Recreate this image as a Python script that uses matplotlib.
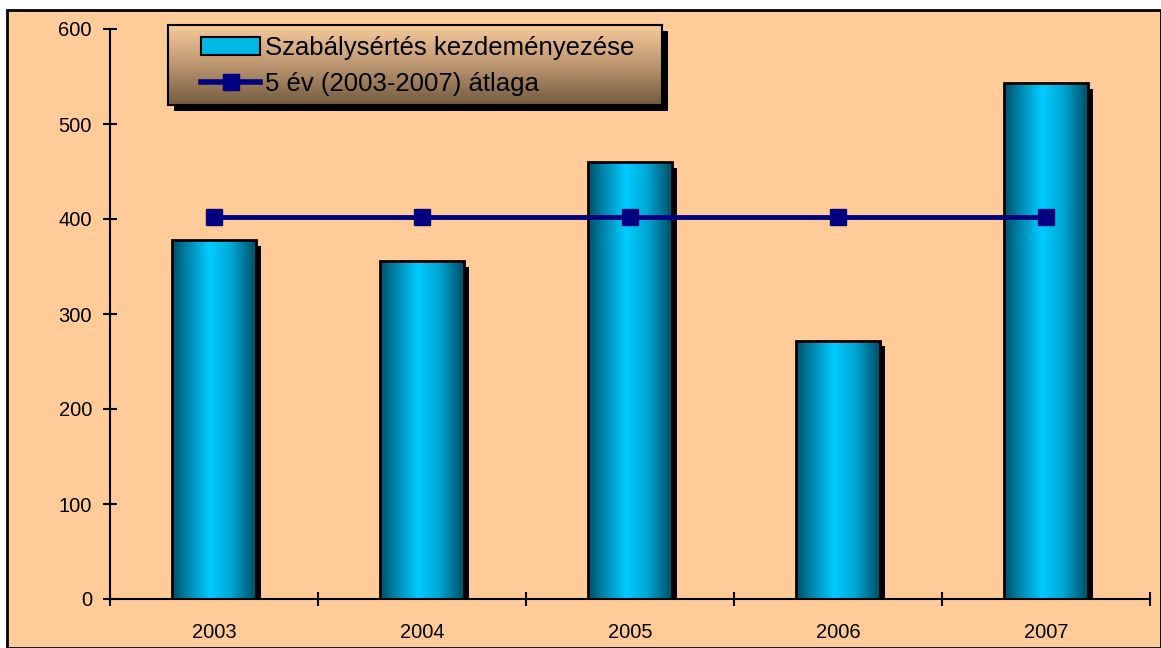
import numpy as np
import matplotlib
matplotlib.use("Agg")
import matplotlib.pyplot as plt
from matplotlib.colors import LinearSegmentedColormap
from matplotlib.patches import Rectangle, Patch
from matplotlib.lines import Line2D

plt.rcParams['font.family'] = ['Liberation Sans', 'DejaVu Sans']

years = ["2003", "2004", "2005", "2006", "2007"]
cases = [378, 356, 460, 272, 543]
average = [402, 402, 402, 402, 402]
bar_label = "Szabálysértés kezdeményezése"
line_label = "5 év (2003-2007) átlaga"

BG = "#FFCC99"
NAVY = "#000080"
W, H = 1161, 648

fig = plt.figure(figsize=(W / 100, H / 100), dpi=100)
fig.patch.set_facecolor("white")

# outer frame of the chart area
fig.patches.append(Rectangle((7 / W, 0.0), 1 - 7 / W, 1 - 10 / H, transform=fig.transFigure,
                             facecolor=BG, edgecolor="black", linewidth=2, zorder=-10))

ax = fig.add_axes([110 / W, 1 - 599 / H, (1150 - 110) / W, (599 - 29) / H])
ax.set_facecolor("none")

bar_cmap = LinearSegmentedColormap.from_list(
    "cyl", [(0.0, "#004F68"), (0.2, "#0089B0"), (0.45, "#00CCFF"), (0.7, "#00A8D6"), (1.0, "#004F68")])
grad = np.linspace(0, 1, 256).reshape(1, -1)

x = np.arange(len(years))
width = 0.4
dx = 5 / 208
# shadows
ax.bar(x + dx, np.array(cases) - 6, width=width, color="black", zorder=1)
bars = ax.bar(x, cases, width=width, facecolor="none", edgecolor="black", linewidth=2, zorder=3)
for b in bars:
    x0, w, h = b.get_x(), b.get_width(), b.get_height()
    im = ax.imshow(grad, cmap=bar_cmap, aspect="auto", extent=(x0, x0 + w, 0, h), zorder=2)
    im.set_clip_path(b)

ax.plot(x, average, color=NAVY, linewidth=3.5, marker="s", markersize=12, zorder=4)

ax.set_xlim(-0.5, len(years) - 0.5)
ax.set_ylim(0, 600)
ax.set_yticks(range(0, 601, 100))
ax.set_xticks(x)
ax.set_xticklabels(years)
ax.set_xticks(np.arange(-0.5, len(years), 1.0), minor=True)
ax.tick_params(axis="x", which="major", length=0, pad=17, labelsize=14.5)
ax.tick_params(axis="x", which="minor", direction="inout", length=10, width=1.5)
ax.tick_params(axis="y", direction="inout", length=10, width=1.5, pad=8, labelsize=14.5)
for s in ["top", "right"]:
    ax.spines[s].set_visible(False)
for s in ["left", "bottom"]:
    ax.spines[s].set_linewidth(1.5)

# legend background with gradient and shadow
lx0, lx1, ly0, ly1 = 168, 662, 25, 105
fig.patches.append(Rectangle(((lx0 + 6) / W, 1 - (ly1 + 6) / H), (lx1 - lx0) / W, (ly1 - ly0) / H,
                             transform=fig.transFigure, facecolor="black", zorder=1))
lax = fig.add_axes([lx0 / W, 1 - ly1 / H, (lx1 - lx0) / W, (ly1 - ly0) / H], zorder=2)
leg_cmap = LinearSegmentedColormap.from_list("leg", ["#F6CB9C", "#BC9670", "#735A40"])
lax.imshow(np.linspace(0, 1, 256).reshape(-1, 1), cmap=leg_cmap, aspect="auto")
lax.set_xticks([])
lax.set_yticks([])
for s in lax.spines.values():
    s.set_linewidth(1.5)

handles = [Patch(facecolor="#00B8E6", edgecolor="black", linewidth=1.5),
           Line2D([], [], color=NAVY, linewidth=4, marker="s", markersize=11)]
leg = fig.legend(handles, [bar_label, line_label], loc="center left",
                 bbox_to_anchor=(178 / W, 1 - 66 / H), frameon=False, fontsize=18.5,
                 handlelength=2.3, handletextpad=0.2, labelspacing=0.45)
leg.set_zorder(5)

fig.savefig("out.png", dpi=100)
